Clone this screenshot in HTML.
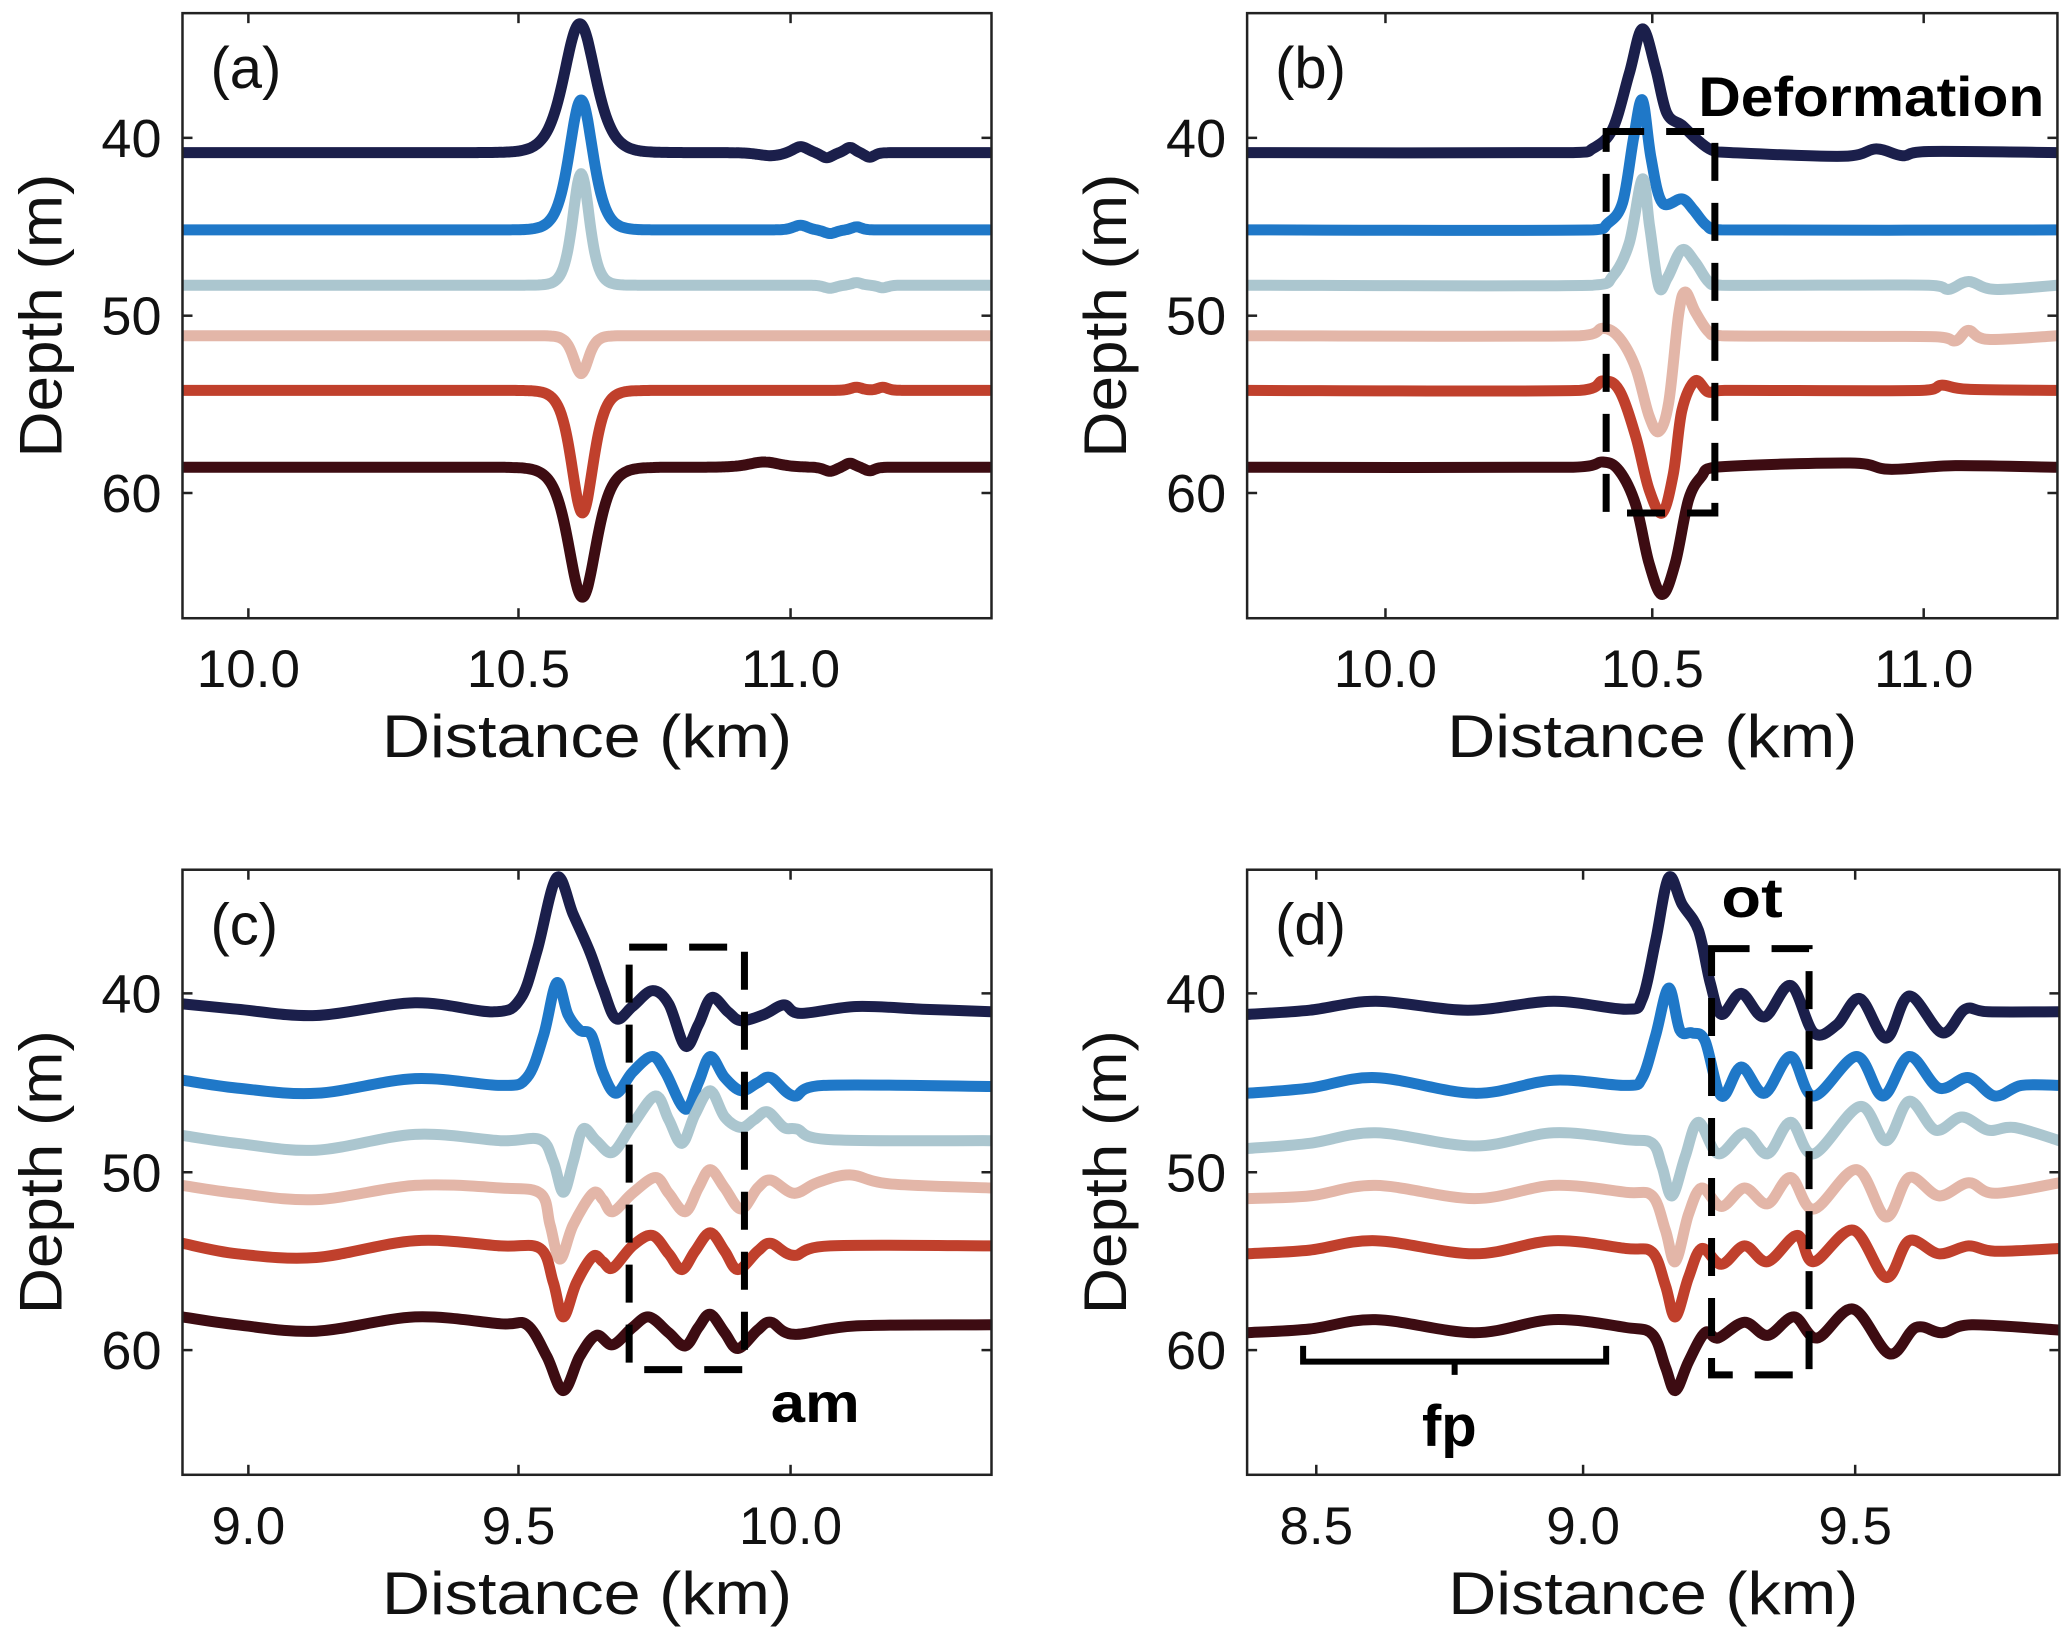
<!DOCTYPE html>
<html><head><meta charset="utf-8"><style>
html,body{margin:0;padding:0;background:#fff;}
svg{display:block;}
</style></head><body>
<svg id="s" xmlns="http://www.w3.org/2000/svg" width="2067" height="1649" viewBox="0 0 2067 1649">
<rect width="2067" height="1649" fill="#fff"/>
</svg>
<script>
const sx=1033/1568, sy=825/1568;
const COLS=['#1b1f4b','#1f78c8','#abc6cf','#e3b6a8','#c0402c','#3d0c12'];
function cr(pts){let d='M'+pts[0][0].toFixed(1)+','+pts[0][1].toFixed(1);
 for(let i=0;i<pts.length-1;i++){const p0=pts[i-1]||pts[i],p1=pts[i],p2=pts[i+1],p3=pts[i+2]||p2;
 let c1=[p1[0]+(p2[0]-p0[0])/6,p1[1]+(p2[1]-p0[1])/6],c2=[p2[0]-(p3[0]-p1[0])/6,p2[1]-(p3[1]-p1[1])/6];
 const lo=p1[0],hi=p2[0];
 c1[0]=Math.min(Math.max(c1[0],lo),hi); c2[0]=Math.min(Math.max(c2[0],lo),hi);
 d+=' C'+c1[0].toFixed(1)+','+c1[1].toFixed(1)+' '+c2[0].toFixed(1)+','+c2[1].toFixed(1)+' '+p2[0].toFixed(1)+','+p2[1].toFixed(1);}
 return d;}
function gen(x0,x1,base,comps){const pts=[];for(let x=x0;x<=x1+0.01;x+=5){let y=base;comps.forEach(c=>{const u=(x-c[0])/c[2];const s=1/Math.cosh(u);y+=c[1]*s*s;});pts.push([x,y]);}return pts;}
const panels=[
{q:[0,0],box:[277,1505,25,1175],yt:[262,600,937],xt:[[377,'10.0'],[787,'10.5'],[1200,'11.0']],lab:'(a)',curves:[
gen(277,1505,290,[[880,-245,32],[1170,6,25],[1215,-12,15],[1255,10,12],[1290,-10,10],[1320,9,10]]),
gen(277,1505,437,[[882,-247,24],[1215,-9,14],[1260,7,12],[1300,-6,10]]),
gen(277,1505,542,[[882,-212,17],[1260,6,12],[1300,-5,10],[1340,5,10]]),
gen(277,1505,638,[[882,72,15]]),
gen(277,1505,742,[[884,233,22],[1300,-6,12],[1340,-6,10]]),
gen(277,1505,888,[[884,247,28],[1160,-10,30],[1260,8,12],[1290,-8,10],[1320,7,10]])
]},
{q:[1033,0],box:[325,1555,25,1175],yt:[262,600,937],xt:[[535,'10.0'],[940,'10.5'],[1352,'11.0']],lab:'(b)',curves:[
[[325,290],[820,290],[850,282],[880,245],[905,140],[925,55],[945,130],[962,215],[985,238],[1005,262],[1030,285],[1060,290],[1230,297],[1280,283],[1320,296],[1360,288],[1555,290]],
[[325,437],[850,437],[872,425],[895,385],[912,260],[925,190],[938,300],[955,385],[985,378],[1002,398],[1022,428],[1045,437],[1555,437]],
[[325,542],[850,542],[880,525],[905,462],[925,340],[936,430],[950,545],[963,528],[985,475],[1005,498],[1025,535],[1045,542],[1360,542],[1390,550],[1420,535],[1460,550],[1555,542]],
[[325,638],[830,638],[865,624],[890,642],[915,700],[935,790],[950,820],[965,765],[980,598],[990,555],[1005,592],[1025,630],[1045,638],[1370,640],[1400,648],[1420,628],[1450,645],[1555,638]],
[[325,742],[830,742],[865,724],[890,742],[915,830],[935,930],[955,975],[972,900],[985,780],[1005,724],[1025,745],[1050,742],[1350,742],[1380,732],[1420,740],[1555,742]],
[[325,888],[820,888],[865,878],[890,895],[915,960],[935,1070],[955,1130],[975,1070],[995,950],[1015,905],[1035,888],[1240,880],[1300,892],[1400,885],[1555,888]]
]},
{q:[0,825],box:[277,1505,85,1235],yt:[320,660,998],xt:[[377,'9.0'],[787,'9.5'],[1200,'10.0']],lab:'(c)',curves:[
[[277,340],[360,350],[480,362],[630,338],[750,355],[790,330],[815,240],[845,100],[870,170],[895,240],[915,310],[935,368],[960,345],[990,315],[1015,340],[1040,420],[1060,380],[1080,328],[1105,355],[1125,372],[1160,360],[1190,342],[1215,358],[1300,345],[1400,350],[1505,355]],
[[277,485],[360,500],[480,510],[630,482],[760,495],[800,480],[825,400],[845,300],[862,360],[880,390],[898,400],[915,470],[935,510],[960,470],[990,440],[1010,470],[1040,540],[1060,490],[1078,440],[1100,480],[1125,505],[1150,490],[1170,480],[1205,515],[1250,495],[1505,497]],
[[277,590],[360,605],[480,618],[630,588],[760,600],[820,598],[840,640],[855,698],[870,640],[885,578],[905,600],[930,622],[960,570],[995,515],[1015,560],[1035,605],[1055,550],[1078,505],[1100,555],[1125,575],[1145,560],[1165,545],[1190,575],[1210,578],[1260,598],[1505,600]],
[[277,685],[360,700],[480,712],[630,685],[760,690],[820,700],[835,760],[850,825],[870,760],[900,700],[915,712],[930,735],[960,700],[995,670],[1015,700],[1040,735],[1060,690],[1078,655],[1100,690],[1125,730],[1150,690],[1170,675],[1205,700],[1240,680],[1290,665],[1350,682],[1505,690]],
[[277,795],[360,815],[480,822],[630,790],[760,800],[820,805],[840,870],[855,935],[875,870],[900,820],[915,830],[930,842],[960,800],[990,780],[1015,815],[1035,845],[1055,810],[1078,775],[1100,810],[1120,845],[1150,810],[1170,795],[1205,818],[1260,800],[1505,800]],
[[277,935],[360,950],[480,962],[630,935],[760,948],[800,950],[830,1010],[855,1075],[880,1010],[905,970],[930,988],[960,955],[985,935],[1015,965],[1040,990],[1060,955],[1078,930],[1100,965],[1120,995],[1150,960],[1170,945],[1205,968],[1300,952],[1505,950]]
]},
{q:[1033,825],box:[325,1558,85,1235],yt:[320,660,998],xt:[[430,'8.5'],[835,'9.0'],[1248,'9.5']],lab:'(d)',curves:[
[[325,360],[420,352],[520,335],[660,352],[790,335],[900,350],[925,330],[945,220],[965,100],[985,150],[1010,200],[1028,300],[1045,360],[1075,320],[1110,365],[1150,305],[1185,395],[1220,380],[1255,330],[1295,405],[1330,325],[1380,395],[1415,350],[1450,355],[1558,355]],
[[325,510],[420,500],[520,480],[670,510],[790,485],[900,495],[925,480],[945,400],[965,310],[982,390],[1000,395],[1020,410],[1045,515],[1075,460],[1110,510],[1150,440],[1185,515],[1250,440],[1290,515],[1330,440],[1375,500],[1420,480],[1460,515],[1500,495],[1558,495]],
[[325,615],[420,605],[520,585],[670,610],[790,585],[900,598],[940,605],[955,650],[970,705],[990,630],[1010,565],[1040,625],[1080,585],[1115,625],[1150,565],[1185,625],[1255,535],[1295,600],[1330,525],[1370,580],[1410,555],[1450,580],[1490,575],[1558,600]],
[[325,710],[420,705],[520,685],[670,710],[790,685],[900,698],[940,705],[960,770],[975,830],[995,740],[1015,690],[1045,725],[1080,690],[1115,720],[1150,670],[1185,730],[1250,655],[1295,745],[1330,670],[1375,705],[1420,680],[1460,700],[1558,680]],
[[325,815],[420,808],[520,790],[670,815],[790,790],[900,805],[940,812],[960,875],[975,935],[995,860],[1015,805],[1045,835],[1080,800],[1115,830],[1160,780],[1185,830],[1245,770],[1295,860],[1330,790],[1375,815],[1420,800],[1460,810],[1558,805]],
[[325,965],[420,958],[520,940],[670,965],[790,940],[900,955],[940,968],[960,1030],[975,1075],[995,1020],[1020,965],[1040,975],[1080,945],[1115,970],[1155,935],[1190,975],[1245,920],[1300,1005],[1340,955],[1380,965],[1425,950],[1558,960]]
]}
];
let out='';
function X(p,zx){return p.q[0]+zx*sx;} function Y(p,zy){return p.q[1]+zy*sy;}
const F='font-family="Liberation Sans, Arial, sans-serif"';
panels.forEach((p,i)=>{
 const [l,r,t,b]=p.box; const L=X(p,l),R=X(p,r),T=Y(p,t),B=Y(p,b);
 out+=`<clipPath id="c${i}"><rect x="${L}" y="${T}" width="${R-L}" height="${B-T}"/></clipPath>`;
 out+=`<g clip-path="url(#c${i})">`;
 p.curves.forEach((c,k)=>{const pts=c.map(v=>[X(p,v[0]),Y(p,v[1])]);
  out+=`<path d="${cr(pts)}" fill="none" stroke="${COLS[k]}" stroke-width="11" stroke-linejoin="round" stroke-linecap="round"/>`;});
 out+='</g>';
 out+=`<rect x="${L}" y="${T}" width="${R-L}" height="${B-T}" fill="none" stroke="#222" stroke-width="2.5"/>`;
 p.yt.forEach((v,j)=>{const y=Y(p,v);
  out+=`<line x1="${L}" y1="${y}" x2="${L+10}" y2="${y}" stroke="#222" stroke-width="2.5"/><line x1="${R}" y1="${y}" x2="${R-10}" y2="${y}" stroke="#222" stroke-width="2.5"/>`;
  out+=`<text x="${L-21}" y="${y+19}" ${F} font-size="54" text-anchor="end" fill="#111">${['40','50','60'][j]}</text>`;});
 p.xt.forEach(v=>{const x=X(p,v[0]);
  out+=`<line x1="${x}" y1="${B}" x2="${x}" y2="${B-10}" stroke="#222" stroke-width="2.5"/><line x1="${x}" y1="${T}" x2="${x}" y2="${T+10}" stroke="#222" stroke-width="2.5"/>`;
  out+=`<text x="${x}" y="${B+69}" ${F} font-size="53" text-anchor="middle" fill="#111">${v[1]}</text>`;});
 out+=`<text x="${(L+R)/2}" y="${B+139}" ${F} font-size="60" text-anchor="middle" textLength="410" lengthAdjust="spacingAndGlyphs" fill="#111">Distance (km)</text>`;
 const cy=(T+B)/2, cx=L-142;
 out+=`<text x="${cx}" y="${cy}" transform="rotate(-90 ${cx} ${cy})" dy="21" ${F} font-size="60" text-anchor="middle" textLength="284" lengthAdjust="spacingAndGlyphs" fill="#111">Depth (m)</text>`;
 out+=`<text x="${L+28}" y="${T+75}" ${F} font-size="58" fill="#111">${p.lab}</text>`;
});
const BF='font-family="Liberation Sans, Arial, sans-serif" font-weight="bold"';
function dbox(p,x1,y1,x2,y2){const a=X(p,x1),b=Y(p,y1),c=X(p,x2),d=Y(p,y2);
 return `<rect x="${a}" y="${b}" width="${c-a}" height="${d-b}" fill="none" stroke="#000" stroke-width="7" stroke-dasharray="38 22"/>`;}
const pa=panels[0],pb=panels[1],pc=panels[2],pd=panels[3];
out+=dbox(pb,870,250,1035,975);
out+=`<text x="${X(pb,1010)}" y="${Y(pb,220)}" ${BF} font-size="56" textLength="${(1535-1010)*sx}" lengthAdjust="spacingAndGlyphs" fill="#000">Deformation</text>`;
out+=dbox(pc,955,232,1130,1035);
out+=`<text x="${X(pc,1170)}" y="${Y(pc,1135)}" ${BF} font-size="56" textLength="${(1305-1170)*sx}" lengthAdjust="spacingAndGlyphs" fill="#000">am</text>`;
out+=dbox(pd,1030,235,1178,1045);
out+=`<text x="${X(pd,1045)}" y="${Y(pd,175)}" ${BF} font-size="56" textLength="${(1138-1045)*sx}" lengthAdjust="spacingAndGlyphs" fill="#000">ot</text>`;
{const x1=X(pd,410),x2=X(pd,870),xm=X(pd,640),y=Y(pd,1020),yt=Y(pd,990),yb=Y(pd,1045);
 out+=`<path d="M${x1},${yt} L${x1},${y} L${x2},${y} L${x2},${yt} M${xm},${y} L${xm},${yb}" fill="none" stroke="#000" stroke-width="6"/>`;
 out+=`<text x="${X(pd,632)}" y="${Y(pd,1180)}" ${BF} font-size="58" text-anchor="middle" fill="#000">fp</text>`;}
document.getElementById('s').insertAdjacentHTML('beforeend',out);
</script>
</body></html>
